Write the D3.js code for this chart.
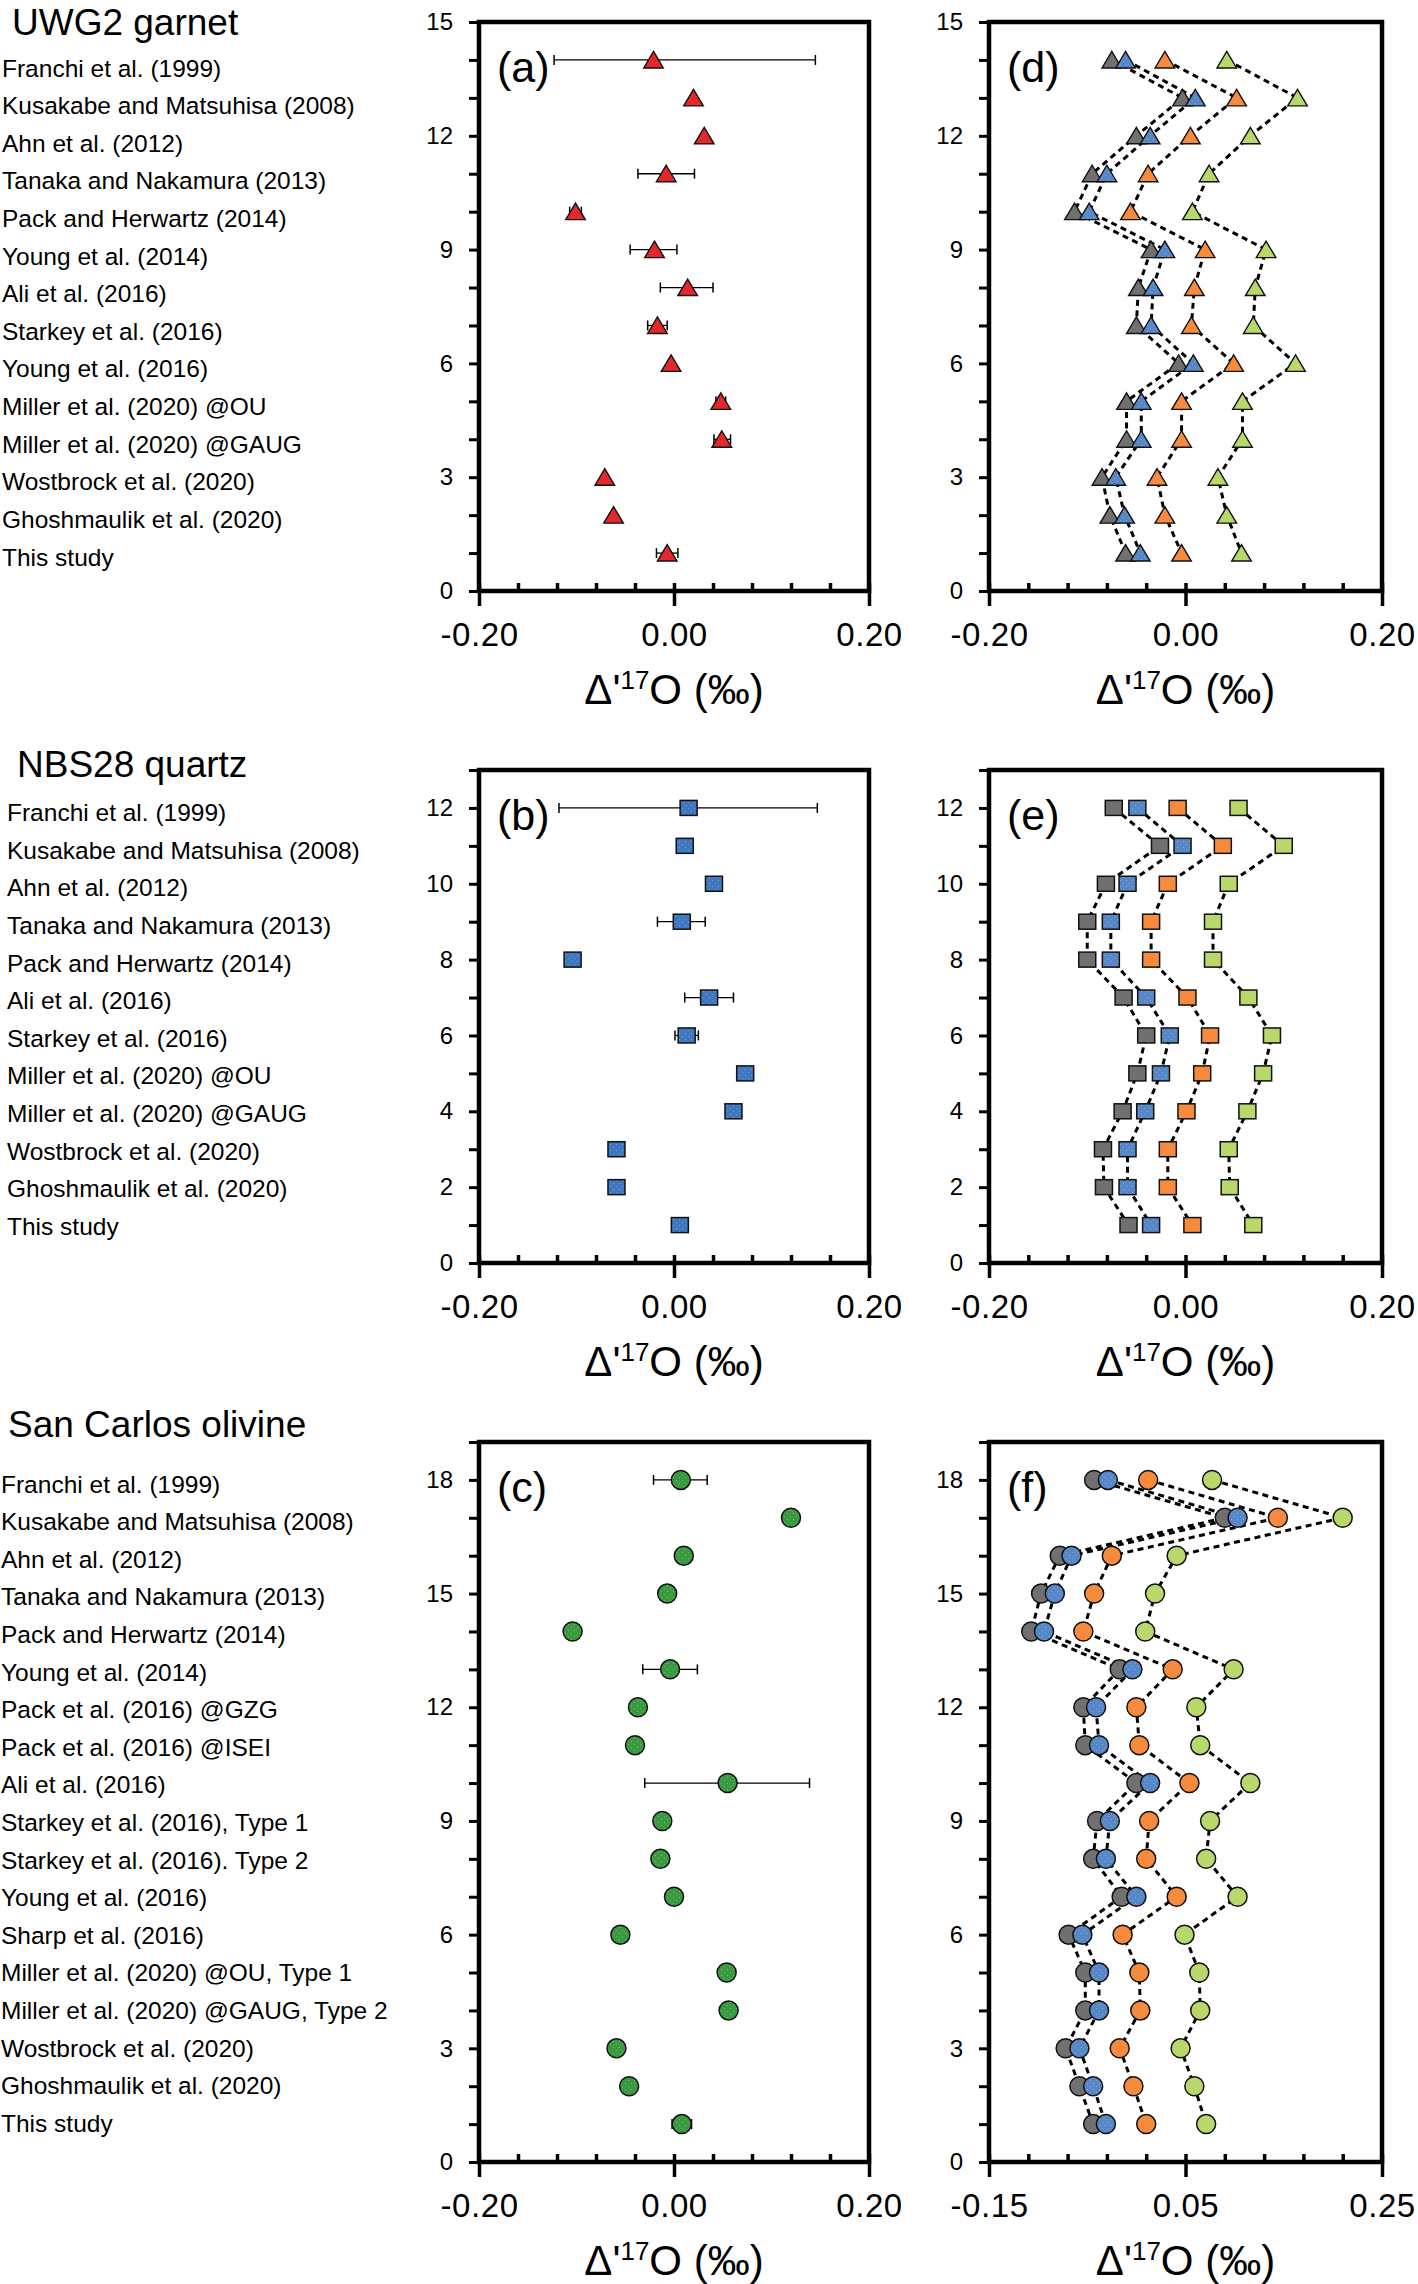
<!DOCTYPE html>
<html><head><meta charset="utf-8">
<script src="https://cdn.jsdelivr.net/npm/d3@7"></script>
<style>
body{margin:0;background:#fff}
svg{display:block}
text{font-family:"Liberation Sans",Arial,Helvetica,sans-serif;fill:#000}
</style>
</head><body>
<svg id="chart" width="1418" height="2284"></svg>
<script>
// ---------------- DATA ----------------
const garnetStudies = ["Franchi et al. (1999)","Kusakabe and Matsuhisa (2008)","Ahn et al. (2012)","Tanaka and Nakamura (2013)","Pack and Herwartz (2014)","Young et al. (2014)","Ali et al. (2016)","Starkey et al. (2016)","Young et al. (2016)","Miller et al. (2020) @OU","Miller et al. (2020) @GAUG","Wostbrock et al. (2020)","Ghoshmaulik et al. (2020)","This study"];
const garnetPos = [14,13,12,11,10,9,8,7,6,5,4,3,2,1];
const garnetD17O = [-0.021,0.020,0.031,-0.008,-0.101,-0.020,0.014,-0.017,-0.003,0.048,0.049,-0.071,-0.062,-0.007];
const garnetErrLo = [-0.123,null,null,-0.037,-0.107,-0.045,-0.014,-0.027,null,0.043,0.041,null,null,-0.018];
const garnetErrHi = [0.145,null,null,0.021,-0.095,0.003,0.040,-0.007,null,0.053,0.058,null,null,0.004];
const garnetGray   = [-0.075,-0.003,-0.050,-0.095,-0.113,-0.035,-0.048,-0.050,-0.007,-0.060,-0.060,-0.085,-0.077,-0.061];
const garnetBlue   = [-0.061,0.010,-0.036,-0.080,-0.098,-0.021,-0.033,-0.035,0.008,-0.045,-0.045,-0.071,-0.062,-0.046];
const garnetOrange = [-0.021,0.052,0.005,-0.038,-0.056,0.020,0.009,0.006,0.049,-0.004,-0.004,-0.029,-0.021,-0.004];
const garnetGreen  = [0.042,0.114,0.066,0.024,0.007,0.082,0.071,0.069,0.112,0.058,0.058,0.033,0.042,0.057];

const quartzStudies = ["Franchi et al. (1999)","Kusakabe and Matsuhisa (2008)","Ahn et al. (2012)","Tanaka and Nakamura (2013)","Pack and Herwartz (2014)","Ali et al. (2016)","Starkey et al. (2016)","Miller et al. (2020) @OU","Miller et al. (2020) @GAUG","Wostbrock et al. (2020)","Ghoshmaulik et al. (2020)","This study"];
const quartzPos = [12,11,10,9,8,7,6,5,4,3,2,1];
const quartzD17O = [0.015,0.011,0.041,0.008,-0.104,0.036,0.013,0.073,0.061,-0.059,-0.059,0.006];
const quartzErrLo = [-0.118,null,null,-0.017,null,0.011,0.001,null,null,null,null,null];
const quartzErrHi = [0.147,null,null,0.032,null,0.061,0.025,null,null,null,null,null];
const quartzGray   = [-0.073,-0.026,-0.081,-0.100,-0.100,-0.063,-0.040,-0.049,-0.064,-0.084,-0.083,-0.058];
const quartzBlue   = [-0.049,-0.003,-0.059,-0.076,-0.076,-0.040,-0.016,-0.025,-0.041,-0.059,-0.059,-0.035];
const quartzOrange = [-0.008,0.038,-0.018,-0.035,-0.035,0.002,0.025,0.017,0.001,-0.018,-0.018,0.007];
const quartzGreen  = [0.054,0.100,0.044,0.028,0.028,0.064,0.088,0.079,0.063,0.044,0.045,0.069];

const olivineStudies = ["Franchi et al. (1999)","Kusakabe and Matsuhisa (2008)","Ahn et al. (2012)","Tanaka and Nakamura (2013)","Pack and Herwartz (2014)","Young et al. (2014)","Pack et al. (2016) @GZG","Pack et al. (2016) @ISEI","Ali et al. (2016)","Starkey et al. (2016), Type 1","Starkey et al. (2016). Type 2","Young et al. (2016)","Sharp et al. (2016)","Miller et al. (2020) @OU, Type 1","Miller et al. (2020) @GAUG, Type 2","Wostbrock et al. (2020)","Ghoshmaulik et al. (2020)","This study"];
const olivinePos = [18,17,16,15,14,13,12,11,10,9,8,7,6,5,4,3,2,1];
const olivineD17O = [0.007,0.120,0.010,-0.007,-0.104,-0.004,-0.037,-0.040,0.055,-0.012,-0.014,0.000,-0.055,0.054,0.056,-0.059,-0.046,0.008];
const olivineErrLo = [-0.021,null,null,null,null,-0.032,null,null,-0.030,null,null,null,null,null,null,null,null,-0.002];
const olivineErrHi = [0.034,null,null,null,null,0.024,null,null,0.139,null,null,null,null,null,null,null,null,0.018];
const olivineGray   = [-0.043,0.090,-0.078,-0.097,-0.107,-0.017,-0.054,-0.052,0.000,-0.040,-0.044,-0.015,-0.069,-0.052,-0.052,-0.072,-0.058,-0.044];
const olivineBlue   = [-0.029,0.103,-0.066,-0.083,-0.094,-0.004,-0.041,-0.038,0.014,-0.027,-0.031,0.000,-0.055,-0.038,-0.038,-0.058,-0.044,-0.031];
const olivineOrange = [0.012,0.144,-0.025,-0.043,-0.054,0.037,0.000,0.003,0.054,0.013,0.010,0.041,-0.014,0.003,0.004,-0.017,-0.003,0.010];
const olivineGreen  = [0.077,0.210,0.041,0.019,0.009,0.099,0.061,0.065,0.116,0.075,0.071,0.103,0.049,0.064,0.065,0.045,0.059,0.071];

const groupTitles = ["UWG2 garnet","NBS28 quartz","San Carlos olivine"];
const panelLetters = ["(a)","(b)","(c)","(d)","(e)","(f)"];
const xTicksStd = [-0.20,0.00,0.20];
const xTicksOl = [-0.15,0.05,0.25];
const yLabelTicksGarnet = [0,3,6,9,12,15];
const yLabelTicksQuartz = [0,2,4,6,8,10,12];
const yLabelTicksOlivine = [0,3,6,9,12,15,18];

// ---------------- STYLE ----------------
const C = {red:"#e3272b", blueDark:"#3f77c2", blue:"#5587ca", greenDark:"#3a9a42",
           gray:"#707070", orange:"#f68b3d", lime:"#b8d86c"};

const svg = d3.select("#chart");
const defs = svg.append("defs");
function dotPattern(id, base, dot){
  const p = defs.append("pattern").attr("id",id).attr("patternUnits","userSpaceOnUse")
    .attr("width",6).attr("height",6);
  p.append("rect").attr("width",6).attr("height",6).attr("fill",base);
  p.append("rect").attr("x",1).attr("y",1).attr("width",1).attr("height",1).attr("fill",dot).attr("opacity",0.6);
  p.append("rect").attr("x",4).attr("y",4).attr("width",1).attr("height",1).attr("fill",dot).attr("opacity",0.5);
}
dotPattern("pBlueDark", C.blueDark, "#9fc873");
dotPattern("pBlue", C.blue, "#b9c97a");
dotPattern("pGreenDark", C.greenDark, "#a6d37a");

const rows = [
  {top:22, bottom:591, yMax:15, yLab:yLabelTicksGarnet, studies:garnetStudies, pos:garnetPos,
   val:garnetD17O, lo:garnetErrLo, hi:garnetErrHi, shape:"tri", fill:C.red,
   series:[garnetGray,garnetBlue,garnetOrange,garnetGreen],
   labX:2, labFirst:76.5, labLast:565.6, titleX:12, titleBase:35},
  {top:770, bottom:1263, yMax:13, yLab:yLabelTicksQuartz, studies:quartzStudies, pos:quartzPos,
   val:quartzD17O, lo:quartzErrLo, hi:quartzErrHi, shape:"sq", fill:"url(#pBlueDark)",
   series:[quartzGray,quartzBlue,quartzOrange,quartzGreen],
   labX:7, labFirst:821, labLast:1235, titleX:17, titleBase:777},
  {top:1442, bottom:2162, yMax:19, yLab:yLabelTicksOlivine, studies:olivineStudies, pos:olivinePos,
   val:olivineD17O, lo:olivineErrLo, hi:olivineErrHi, shape:"circ", fill:"url(#pGreenDark)",
   series:[olivineGray,olivineBlue,olivineOrange,olivineGreen],
   labX:1, labFirst:1492.5, labLast:2131.7, titleX:8, titleBase:1437}
];
const seriesFill = [C.gray,"url(#pBlue)",C.orange,C.lime];
const leftCol = {x0:479, x1:869};
const rightCol = {x0:989, x1:1382};

function drawMarker(g, shape, cx, cy, fill){
  if(shape==="tri"){
    g.append("path").attr("d",`M${cx},${cy-8.5}L${cx+9.8},${cy+8}L${cx-9.8},${cy+8}Z`)
      .attr("fill",fill).attr("stroke","#111").attr("stroke-width",1.4).attr("stroke-linejoin","miter");
  } else if(shape==="sq"){
    g.append("rect").attr("x",cx-8.5).attr("y",cy-7.5).attr("width",17).attr("height",15)
      .attr("fill",fill).attr("stroke","#111").attr("stroke-width",1.5);
  } else {
    g.append("circle").attr("cx",cx).attr("cy",cy).attr("r",9.5)
      .attr("fill",fill).attr("stroke","#111").attr("stroke-width",1.5);
  }
}

function axes(g, x, y, col, row, xMajor, xAll){
  const yAx = d3.axisLeft(y).tickValues(d3.range(0,row.yMax+1)).tickSizeInner(10).tickSizeOuter(0)
    .tickPadding(16).tickFormat(d => row.yLab.includes(d) ? d : "");
  const ya = g.append("g").attr("transform",`translate(${col.x0},0)`).call(yAx);
  ya.select(".domain").remove();
  ya.selectAll("line").attr("stroke","#000").attr("stroke-width",3);
  ya.selectAll("text").attr("font-size",24).attr("fill","#000").style("font-family","'Liberation Sans',Arial,sans-serif");
  const xAx = d3.axisBottom(x).tickValues(xMajor).tickSizeInner(15).tickSizeOuter(0).tickPadding(17)
    .tickFormat(d3.format(".2f"));
  const xa = g.append("g").attr("transform",`translate(0,${row.bottom})`).call(xAx);
  xa.select(".domain").remove();
  xa.selectAll("line").attr("stroke","#000").attr("stroke-width",3.5);
  xa.selectAll("text").attr("font-size",33).attr("letter-spacing",0.6).attr("fill","#000")
    .style("font-family","'Liberation Sans',Arial,sans-serif")
    .text(d => d3.format(".2f")(d).replace("−","-"));
  const xIn = d3.axisTop(x).tickValues(xAll).tickSizeInner(8).tickSizeOuter(0).tickFormat("");
  const xi = g.append("g").attr("transform",`translate(0,${row.bottom})`).call(xIn);
  xi.select(".domain").remove();
  xi.selectAll("line").attr("stroke","#000").attr("stroke-width",3.5);
  g.append("rect").attr("x",col.x0).attr("y",row.top).attr("width",col.x1-col.x0)
    .attr("height",row.bottom-row.top).attr("fill","none").attr("stroke","#000").attr("stroke-width",4.5);
  const t = g.append("text").attr("x",(col.x0+col.x1)/2).attr("y",row.bottom+113)
    .attr("text-anchor","middle").attr("font-size",42);
  t.append("tspan").text("Δ'");
  t.append("tspan").attr("font-size",26).attr("dy",-15).text("17");
  t.append("tspan").attr("dy",15).text("O (‰)");
}

rows.forEach((row, ri) => {
  const y = d3.scaleLinear().domain([0,row.yMax]).range([row.bottom,row.top]);
  svg.append("text").attr("x",row.titleX).attr("y",row.titleBase).attr("font-size",37).text(groupTitles[ri]);
  const ly = d3.scaleLinear().domain([row.pos[0], row.pos[row.pos.length-1]]).range([row.labFirst,row.labLast]);
  svg.append("g").selectAll("text").data(row.studies).join("text")
    .attr("x",row.labX).attr("y",(d,i)=>ly(row.pos[i])).attr("font-size",24.5).text(d=>d);

  // ---- left panel ----
  const xL = d3.scaleLinear().domain([-0.2,0.2]).range([leftCol.x0,leftCol.x1]);
  const gL = svg.append("g");
  axes(gL, xL, y, leftCol, row, xTicksStd, d3.range(0,11).map(i=>-0.2+i*0.04));
  gL.append("text").attr("x",leftCol.x0+18).attr("y",row.top+60).attr("font-size",43).text(panelLetters[ri]);
  const eb = gL.append("g");
  row.val.forEach((v,i)=>{
    if(row.lo[i]===null) return;
    const yy = y(row.pos[i]), a = xL(row.lo[i]), b = xL(row.hi[i]);
    eb.append("line").attr("x1",a).attr("x2",b).attr("y1",yy).attr("y2",yy).attr("stroke","#000").attr("stroke-width",1.3);
    [a,b].forEach(xx=>eb.append("line").attr("x1",xx).attr("x2",xx).attr("y1",yy-5).attr("y2",yy+5).attr("stroke","#000").attr("stroke-width",1.5));
  });
  const mk = gL.append("g");
  row.val.forEach((v,i)=> drawMarker(mk,row.shape,xL(v),y(row.pos[i]),row.fill));

  // ---- right panel ----
  const xR = ri===2 ? d3.scaleLinear().domain([-0.15,0.25]).range([rightCol.x0,rightCol.x1])
                    : d3.scaleLinear().domain([-0.2,0.2]).range([rightCol.x0,rightCol.x1]);
  const gR = svg.append("g");
  const xAllR = ri===2 ? d3.range(0,11).map(i=>-0.15+i*0.04) : d3.range(0,11).map(i=>-0.2+i*0.04);
  axes(gR, xR, y, rightCol, row, ri===2 ? xTicksOl : xTicksStd, xAllR);
  gR.append("text").attr("x",rightCol.x0+18).attr("y",row.top+60).attr("font-size",43).text(panelLetters[ri+3]);
  const line = d3.line().x(d=>xR(d[0])).y(d=>y(d[1]));
  const lg = gR.append("g");
  row.series.forEach(s=>{
    lg.append("path").attr("d",line(s.map((v,i)=>[v,row.pos[i]]))).attr("fill","none")
      .attr("stroke","#000").attr("stroke-width",3).attr("stroke-dasharray","6,4.5");
  });
  const mg = gR.append("g");
  row.series.forEach((s,si)=>{
    s.forEach((v,i)=> drawMarker(mg,row.shape,xR(v),y(row.pos[i]),seriesFill[si]));
  });
});
</script>
</body></html>
